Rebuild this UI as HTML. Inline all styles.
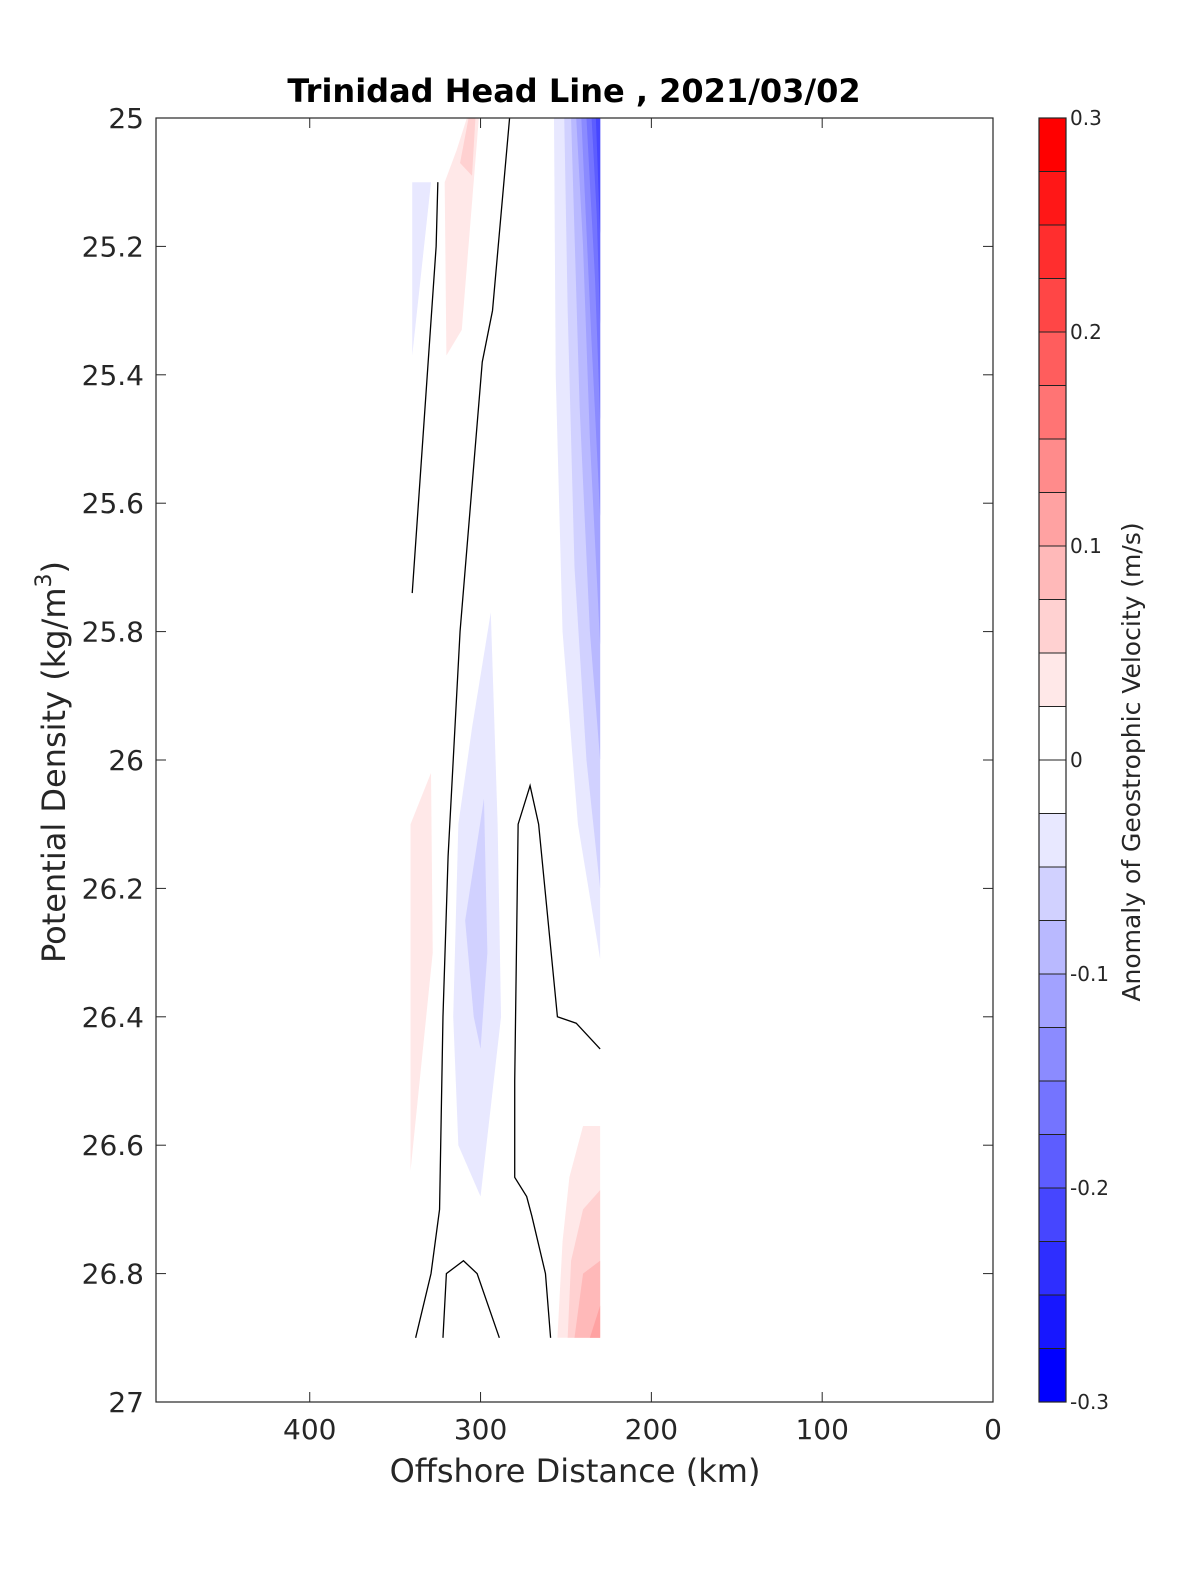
<!DOCTYPE html>
<html><head><meta charset="utf-8">
<style>
html,body{margin:0;padding:0;background:#fff;}
svg{display:block;font-family:"DejaVu Sans","Liberation Sans",sans-serif;}
</style></head>
<body>
<svg id="chart" width="1200" height="1575" viewBox="0 0 1200 1575" xmlns="http://www.w3.org/2000/svg">
<rect width="1200" height="1575" fill="#fff"/>
<text x="574" y="102" text-anchor="middle" font-size="32" font-weight="bold" fill="#000">Trinidad Head Line , 2021/03/02</text>
<g id="fills"></g>
<g id="lines"></g>
<g id="axes"></g>
<g id="cbar"></g>
<text x="575" y="1482" text-anchor="middle" font-size="32" fill="#262626">Offshore Distance (km)</text>
<text transform="translate(65,762) rotate(-90)" text-anchor="middle" font-size="32" fill="#262626">Potential Density (kg/m<tspan dy="-14" font-size="22">3</tspan><tspan dy="14">)</tspan></text>
<text transform="translate(1140,762) rotate(-90)" text-anchor="middle" font-size="25" fill="#262626">Anomaly of Geostrophic Velocity (m/s)</text>
</svg>
<script>
// axis configuration
const xTicks = [400, 300, 200, 100, 0];
const yTicks = [25, 25.2, 25.4, 25.6, 25.8, 26, 26.2, 26.4, 26.6, 26.8, 27];
const yTickLabels = ["25","25.2","25.4","25.6","25.8","26","26.2","26.4","26.6","26.8","27"];
const cbTicks = [0.3, 0.2, 0.1, 0, -0.1, -0.2, -0.3];
const cbTickLabels = ["0.3","0.2","0.1","0","-0.1","-0.2","-0.3"];
// filled contour regions: band index (sign = pos/neg), polygon in (km, density)
const fillBands = [-2,-3,-4,-5,-6,-7,-8,-9, -2, 2, 3, 2, -2, -3, 2, 3, 4, 5];
const fillShapes = [
 [[257,25],[230,25],[230,26.31],[243,26.1],[252,25.8],[256,25.4]],
 [[251,25],[230,25],[230,26.2],[238,26.0],[245,25.7],[249,25.3]],
 [[247,25],[230,25],[230,26.0],[236,25.8],[242,25.45]],
 [[244,25],[230,25],[230,25.82],[236,25.5],[240,25.2]],
 [[241,25],[230,25],[230,25.62],[235,25.35]],
 [[238,25],[230,25],[230,25.47],[233,25.25]],
 [[235,25],[230,25],[230,25.32],[232,25.15]],
 [[232.5,25],[230,25],[230,25.18]],
 [[340,25.1],[329,25.1],[340,25.37]],
 [[308,25],[301,25],[311,25.33],[320,25.37],[321,25.1],[314,25.05]],
 [[307,25],[303,25],[305,25.09],[312,25.07]],
 [[341,26.1],[329,26.02],[328,26.3],[341,26.64]],
 [[294,25.77],[290,26.1],[288,26.4],[300,26.68],[313,26.6],[316,26.4],[313,26.1],[305,25.95]],
 [[298,26.06],[296,26.3],[300,26.45],[304,26.4],[309,26.25]],
 [[230,26.57],[240,26.57],[248,26.65],[252,26.75],[255,26.9],[230,26.9]],
 [[230,26.67],[240,26.7],[247,26.78],[249,26.9],[230,26.9]],
 [[230,26.78],[240,26.8],[245,26.9],[230,26.9]],
 [[230,26.85],[236,26.9],[230,26.9]]
];
// zero contour polylines (km, density)
const zeroLines = [
 [[325,25.1],[326,25.2],[340,25.74]],
 [[283,25],[293,25.3],[299,25.38],[312,25.8],[319,26.15],[322,26.4],[324,26.7],[329,26.8],[338,26.9]],
 [[322,26.9],[320,26.8],[310,26.78],[302,26.8],[289,26.9]],
 [[259,26.9],[262,26.8],[270,26.71],[273,26.68],[280,26.65],[280,26.5],[278,26.1],[271,26.04],[266,26.1],[255,26.4],[244,26.41],[230,26.45]]
];
const X0=156, X1=993, Y0=118, Y1=1402, XMAX=490;
const xs = d => X1 - (X1-X0)*d/XMAX;
const ys = v => Y0 + (Y1-Y0)*(v-25)/2;
const NS="http://www.w3.org/2000/svg";
function mk(tag, attrs, parent){const e=document.createElementNS(NS,tag);for(const k in attrs)e.setAttribute(k,attrs[k]);parent.appendChild(e);return e;}
function bandColor(b){
  const k=Math.abs(b); const g=Math.round(255*(1-(k-1)/11));
  return b>0 ? `rgb(255,${g},${g})` : `rgb(${g},${g},255)`;
}
const fills=document.getElementById('fills');
fillShapes.forEach((s,i)=>{
  const p=mk('polygon',{points:s.map(q=>xs(q[0])+','+ys(q[1])).join(' '),fill:bandColor(fillBands[i]),stroke:'none'},fills);
  
  
});
const lines=document.getElementById('lines');
zeroLines.forEach(s=>{
  const p=mk('polyline',{points:s.map(q=>xs(q[0])+','+ys(q[1])).join(' '),fill:'none',stroke:'#000','stroke-width':1.3},lines);
  
  
});
const axes=document.getElementById('axes');
const box=mk('rect',{x:X0,y:Y0,width:X1-X0,height:Y1-Y0,fill:'none',stroke:'#262626','stroke-width':1.2},axes);


xTicks.forEach(t=>{
  const x=xs(t);
  mk('line',{x1:x,y1:Y1,x2:x,y2:Y1-10,stroke:'#262626'},axes);
  mk('line',{x1:x,y1:Y0,x2:x,y2:Y0+10,stroke:'#262626'},axes);
  const tx=mk('text',{x:x,y:Y1+37,'text-anchor':'middle','font-size':28,fill:'#262626'},axes);
  tx.textContent=String(t);
  
  
});
yTicks.forEach((t,i)=>{
  const y=ys(t);
  mk('line',{x1:X0,y1:y,x2:X0+10,y2:y,stroke:'#262626'},axes);
  mk('line',{x1:X1,y1:y,x2:X1-10,y2:y,stroke:'#262626'},axes);
  const tx=mk('text',{x:X0-12,y:y+10,'text-anchor':'end','font-size':28,fill:'#262626'},axes);
  tx.textContent=yTickLabels[i];
  
  
});
// colorbar
const cb=document.getElementById('cbar');
const CX0=1039, CX1=1066;
const cy = v => Y1 - (Y1-Y0)*(v+0.3)/0.6;
for(let i=0;i<24;i++){
  const lo=-0.3+i*0.025, hi=lo+0.025;
  let col='#fff';
  if(hi>0.026){ col=bandColor(Math.round(hi/0.025)); }
  else if(lo<-0.026){ col=bandColor(-Math.round(-lo/0.025)); }
  const r=mk('rect',{x:CX0,y:cy(hi),width:CX1-CX0,height:cy(lo)-cy(hi),fill:col,stroke:'#222','stroke-width':1},cb);
  
  
}
mk('rect',{x:CX0,y:Y0,width:CX1-CX0,height:Y1-Y0,fill:'none',stroke:'#262626','stroke-width':1.2},cb);
cbTicks.forEach((t,i)=>{
  const y=cy(t);
  mk('line',{x1:CX1,y1:y,x2:CX1-5,y2:y,stroke:'#262626'},cb);
  const tx=mk('text',{x:CX1+4,y:y+7,'font-size':20,fill:'#262626'},cb);
  tx.textContent=cbTickLabels[i];
  
  
});
</script>
</body></html>
